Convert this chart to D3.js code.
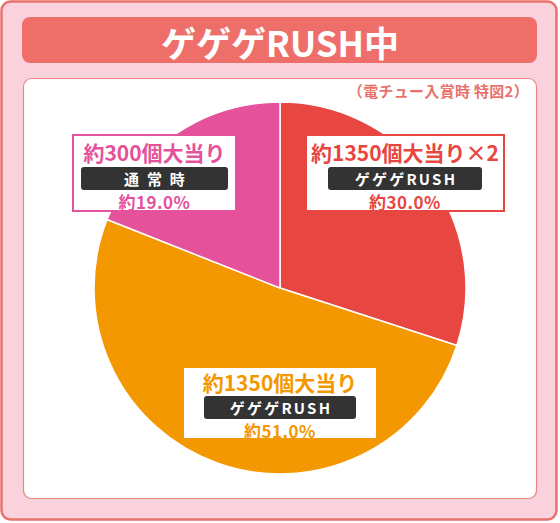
<!DOCTYPE html>
<html>
<head>
<meta charset="utf-8">
<script src="https://cdn.jsdelivr.net/npm/d3@7"></script>
<style>
  html, body { margin: 0; padding: 0; background: #fff; }
  svg { display: block; font-family: "Noto Sans CJK JP", "Noto Sans", sans-serif; }
</style>
</head>
<body>
<div id="chart"></div>
<script>
// Chart data
const titleText = "ゲゲゲRUSH中";
const noteText = "（電チュー入賞時 特図2）";
const prizes = ["約1350個大当り×2", "約1350個大当り", "約300個大当り"];
const modes = ["ゲゲゲRUSH", "ゲゲゲRUSH", "通 常 時"];
const shares = [30.0, 51.0, 19.0];

// Colours per slice
const colors = ["#e84640", "#f39800", "#e5529b"];

// Label box placement: box (x, y, w, h), tag inset, and row offsets from box top
const boxes = [
    { x: 306, y: 135, w: 198, h: 76, inset: 22, t1: 17, bar: 32, t3: 66 },
    { x: 183, y: 367, w: 194, h: 72, inset: 21, t1: 15, bar: 29, t3: 63 },
    { x: 73,  y: 135, w: 163, h: 76, inset: 8,  t1: 17, bar: 32, t3: 66 }
];

const W = 560, H = 523;
const cx = 280, cy = 288, radius = 186;

const svg = d3.select("#chart").append("svg")
    .attr("width", W)
    .attr("height", H);

// Outer frame
svg.append("rect")
    .attr("x", 1.5).attr("y", 1.5)
    .attr("width", 555).attr("height", 518)
    .attr("rx", 9)
    .attr("fill", "#f9d2de")
    .attr("stroke", "#e9716c")
    .attr("stroke-width", 2.5);

// Title banner
svg.append("rect")
    .attr("x", 22).attr("y", 17)
    .attr("width", 515).attr("height", 46)
    .attr("rx", 8)
    .attr("fill", "#ee6f69");

svg.append("text")
    .attr("x", 280).attr("y", 41)
    .attr("text-anchor", "middle")
    .attr("dominant-baseline", "central")
    .attr("fill", "#fff")
    .attr("font-size", 35)
    .attr("font-weight", 700)
    .text(titleText);

// White panel
svg.append("rect")
    .attr("x", 23.5).attr("y", 78.5)
    .attr("width", 513).attr("height", 420)
    .attr("rx", 8)
    .attr("fill", "#fff")
    .attr("stroke", "#ec8580")
    .attr("stroke-width", 1.2);

svg.append("text")
    .attr("x", 529).attr("y", 90)
    .attr("text-anchor", "end")
    .attr("dominant-baseline", "central")
    .attr("fill", "#e9716c")
    .attr("font-size", 15)
    .attr("font-weight", 700)
    .attr("letter-spacing", 0.3)
    .text(noteText);

// Pie
const pie = d3.pie().sort(null).value(d => d)(shares);
const arc = d3.arc().innerRadius(0).outerRadius(radius);

const pieG = svg.append("g")
    .attr("transform", `translate(${cx},${cy})`);

pieG.selectAll("path")
    .data(pie)
    .enter().append("path")
    .attr("d", arc)
    .attr("fill", (d, i) => colors[i])
    .attr("stroke", "#fff")
    .attr("stroke-width", 1.5);

// Label boxes
const labels = svg.selectAll(".label")
    .data(shares)
    .enter().append("g")
    .attr("class", "label");

labels.append("rect")
    .attr("x", (d, i) => boxes[i].x)
    .attr("y", (d, i) => boxes[i].y)
    .attr("width", (d, i) => boxes[i].w)
    .attr("height", (d, i) => boxes[i].h)
    .attr("fill", "#fff")
    .attr("stroke", (d, i) => colors[i])
    .attr("stroke-width", 2);

labels.append("text")
    .attr("x", (d, i) => boxes[i].x + boxes[i].w / 2)
    .attr("y", (d, i) => boxes[i].y + boxes[i].t1)
    .attr("text-anchor", "middle")
    .attr("dominant-baseline", "central")
    .attr("fill", (d, i) => colors[i])
    .attr("font-size", 21)
    .attr("font-weight", 700)
    .text((d, i) => prizes[i]);

labels.append("rect")
    .attr("x", (d, i) => boxes[i].x + boxes[i].inset)
    .attr("y", (d, i) => boxes[i].y + boxes[i].bar)
    .attr("width", (d, i) => boxes[i].w - 2 * boxes[i].inset)
    .attr("height", 23)
    .attr("rx", 3)
    .attr("fill", "#333333");

labels.append("text")
    .attr("x", (d, i) => boxes[i].x + boxes[i].w / 2 + 1)
    .attr("y", (d, i) => boxes[i].y + boxes[i].bar + 11.5)
    .attr("text-anchor", "middle")
    .attr("dominant-baseline", "central")
    .attr("fill", "#fff")
    .attr("font-size", 15)
    .attr("font-weight", 700)
    .attr("letter-spacing", 2.2)
    .text((d, i) => modes[i]);

labels.append("text")
    .attr("x", (d, i) => boxes[i].x + boxes[i].w / 2)
    .attr("y", (d, i) => boxes[i].y + boxes[i].t3)
    .attr("text-anchor", "middle")
    .attr("dominant-baseline", "central")
    .attr("fill", (d, i) => colors[i])
    .attr("font-size", 17)
    .attr("font-weight", 700)
    .attr("letter-spacing", 0.5)
    .text(d => "約" + d.toFixed(1) + "%");
</script>
</body>
</html>
